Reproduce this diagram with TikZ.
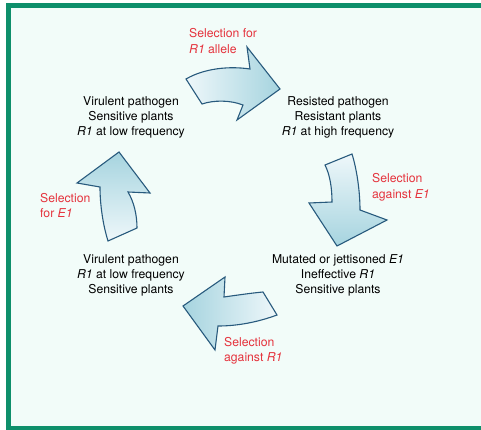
\documentclass[tikz,border=0pt]{standalone}
\usepackage{fontspec}
\setmainfont{TeX Gyre Heros}
\definecolor{framegreen}{HTML}{0E8F6B}
\definecolor{panelfill}{HTML}{F2FCF9}
\definecolor{arrowline}{HTML}{285A7D}
\definecolor{arrowhead}{HTML}{A6D4DF}
\definecolor{arrowtail}{HTML}{EEF7FA}
\definecolor{selred}{HTML}{E5323C}
\begin{document}
\begin{tikzpicture}[x=1pt,y=-1pt,
  blockarrow/.style={draw=arrowline, line width=1.1pt, line join=miter},
  statelbl/.style={align=center, font=\fontsize{12.2}{15}\selectfont, inner sep=0pt, text=black},
  sellbl/.style={align=left, font=\fontsize{12.2}{15.5}\selectfont, inner sep=0pt, text=selred, anchor=west}]
\useasboundingbox (0,0) rectangle (481,430);
\clip (0,0) rectangle (481,430);
\fill[white] (0,0) rectangle (481,430);
\draw[framegreen, line width=5pt, fill=panelfill] (8.5,5.5) rectangle (486,428.5);

% state labels
\node[statelbl] (s1) at (131,117) {Virulent pathogen\\Sensitive plants\\\textit{R1} at low frequency};
\node[statelbl] (s2) at (338,117) {Resisted pathogen\\Resistant plants\\\textit{R1} at high frequency};
\node[statelbl] (s3) at (338,275) {Mutated or jettisoned \textit{E1}\\Ineffective \textit{R1}\\Sensitive plants};
\node[statelbl] (s4) at (131,275) {Virulent pathogen\\\textit{R1} at low frequency\\Sensitive plants};

% selection labels
\node[sellbl] (l1) at (189,41) {Selection for\\\textit{R1} allele};
\node[sellbl] (l2) at (372,187.5) {Selection\\against \textit{E1}};
\node[sellbl] (l3) at (224,351) {Selection\\against \textit{R1}};
\node[sellbl] (l4) at (40,205.5) {Selection\\for \textit{E1}};

% top arrow
\draw[blockarrow, left color=arrowtail, right color=arrowhead]
  (186,79) .. controls (205,68) and (230,66) .. (250,69) -- (247,47) -- (280,89)
  -- (237,120) -- (243,105) .. controls (230,100) and (214,100) .. (202,104) -- cycle;
% right arrow
\draw[blockarrow, top color=arrowtail, bottom color=arrowhead]
  (352,154) .. controls (357,170) and (360,192) .. (360,210) -- (387,220) -- (337,246)
  -- (309,203) -- (332,202) .. controls (332,188) and (330,175) .. (325,165) -- cycle;
% bottom arrow
\draw[blockarrow, right color=arrowtail, left color=arrowhead]
  (277,315) .. controls (258,322) and (238,326) .. (218,326) -- (215,350) -- (183,306)
  -- (225,277) -- (224,297) .. controls (238,295) and (252,293) .. (263,292) -- cycle;
% left arrow
\draw[blockarrow, bottom color=arrowtail, top color=arrowhead]
  (137,228) .. controls (137,215) and (134,202) .. (128,192) -- (150,193) -- (119,152)
  -- (77,183) -- (100,187) .. controls (100,205) and (103,225) .. (108,241) -- cycle;
\end{tikzpicture}
\end{document}
